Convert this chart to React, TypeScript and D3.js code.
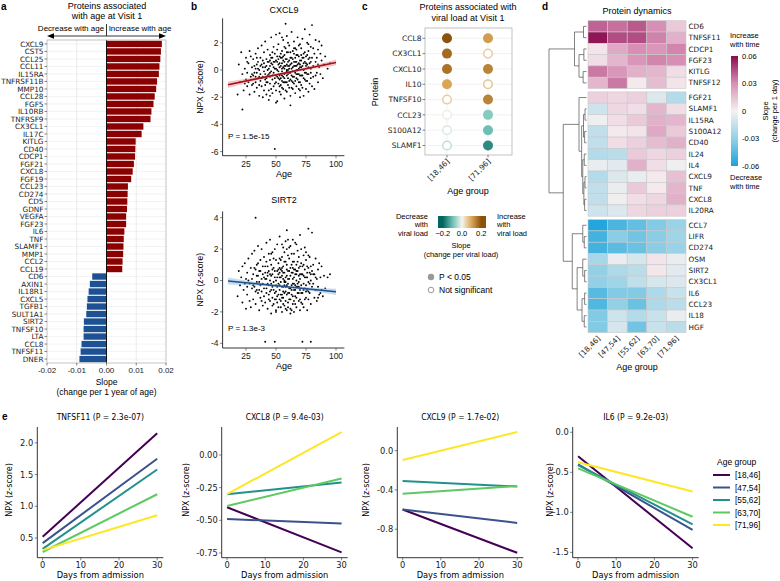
import React from "react";
import * as d3 from "d3";

const FV = "'DejaVu Sans', Verdana, sans-serif";
const FA = "'Liberation Sans', Arial, Helvetica, sans-serif";
const FC = "'DejaVu Sans Condensed', 'Liberation Sans Narrow', 'DejaVu Sans', sans-serif";

// ---------------- Panel a data ----------------
const ageProteins = ["CXCL9","CST5","CCL25","CCL11","IL15RA","TNFRSF11B","MMP10","CCL28","FGF5","IL10RB","TNFRSF9","CX3CL1","IL17C","KITLG","CD40","CDCP1","FGF21","CXCL8","FGF19","CCL23","CD274","CD5","GDNF","VEGFA","FGF23","IL6","TNF","SLAMF1","MMP1","CCL2","CCL19","CD6","AXIN1","IL18R1","CXCL5","TGFB1","SULT1A1","SIRT2","TNFSF10","LTA","CCL8","TNFSF11","DNER"];
const ageSlopes = [0.0186,0.0183,0.0181,0.0178,0.0176,0.0170,0.0167,0.0162,0.0158,0.0151,0.0148,0.0124,0.0118,0.0098,0.0097,0.0096,0.0092,0.0088,0.0083,0.0072,0.0071,0.0070,0.0069,0.0066,0.0066,0.0060,0.0058,0.0057,0.0056,0.0054,0.0053,-0.0048,-0.0056,-0.0060,-0.0064,-0.0066,-0.0068,-0.0076,-0.0077,-0.0077,-0.0084,-0.0087,-0.0091];
const ageTicks = [-0.02,-0.01,0,0.01,0.02];

// ---------------- Panel b data ----------------
const cxcl9Points = [[18,-1.8],[19,0.4],[20,-0.9],[21,1.3],[22,-2.9],[22,-0.3],[23,-1.5],[24,0.1],[25,-0.7],[25,0.9],[26,-1.2],[26,-0.2],[27,0.5],[28,1.4],[28,-1.8],[29,-0.5],[30,0.2],[30,-1.1],[29,1.0],[27,-0.9],
[31,-0.4],[31,0.8],[32,-1.6],[32,0.3],[33,-0.9],[33,1.2],[34,-0.2],[34,-1.3],[35,0.6],[35,-0.6],[35,1.6],[36,-1.9],[36,0.0],[37,-0.8],[37,0.9],[37,-0.3],[38,1.8],[38,-1.2],[38,0.4],[39,-0.5],[39,-2.0],[39,0.7],[40,-0.1],[40,1.3],[40,-1.5],[36,-0.5],[33,0.1],[34,0.9],[31,-1.0],[32,-0.2],
[41,0.2],[41,-1.1],[41,2.1],[42,-0.6],[42,0.8],[42,-1.8],[43,0.0],[43,1.5],[43,-0.9],[44,-0.3],[44,0.6],[44,-2.2],[45,1.1],[45,-0.5],[45,0.3],[46,-1.4],[46,0.9],[46,-0.1],[46,2.4],[47,-0.7],[47,0.4],[47,-1.7],[48,1.7],[48,-0.2],[48,0.6],[49,-5.8],[49,-1.0],[49,0.1],[49,1.2],[50,-0.4],[50,2.6],[50,-1.5],[50,0.7],[43,-0.4],[45,-1.0],[47,1.3],[44,0.1],[42,0.3],[48,-1.2],[41,-0.3],
[51,0.0],[51,-2.3],[51,1.0],[52,-0.6],[52,1.9],[52,0.4],[53,-1.2],[53,0.2],[53,2.7],[54,-0.3],[54,0.9],[54,-1.8],[55,0.5],[55,-0.8],[55,1.4],[55,-0.1],[56,2.2],[56,-0.5],[56,0.7],[56,-1.4],[57,0.1],[57,-2.1],[57,1.1],[57,-0.3],[58,3.4],[58,-0.9],[58,0.3],[58,1.6],[59,-0.4],[59,0.8],[59,-1.6],[59,2.5],[60,0.0],[60,-1.1],[60,1.3],[60,-0.6],[52,-0.1],[53,-0.7],[54,0.3],[55,-1.3],[56,0.2],[57,0.6],[58,-0.2],[59,0.4],[60,0.6],[51,0.6],[53,1.0],[57,-0.9],[54,-0.6],[59,-0.1],
[61,0.3],[61,-0.8],[61,1.8],[62,-0.2],[62,-2.6],[62,0.9],[63,0.5],[63,-1.3],[63,2.8],[64,-0.5],[64,0.2],[64,1.4],[65,-1.0],[65,0.6],[65,2.1],[65,-0.1],[66,0.9],[66,-1.7],[66,0.3],[67,-0.6],[67,1.5],[67,0.0],[67,-1.2],[68,0.4],[68,2.4],[68,-0.3],[69,1.0],[69,-0.9],[69,0.1],[70,-1.5],[70,0.7],[70,1.9],[70,-0.4],[62,0.4],[64,-0.9],[66,-0.2],[68,1.1],[61,-0.2],[63,0.1],[65,1.2],[67,0.6],[69,-0.3],[64,0.8],[66,1.6],[70,0.2],
[71,0.2],[71,-1.1],[71,1.6],[72,-0.4],[72,0.9],[72,2.3],[73,0.0],[73,-1.9],[73,1.2],[74,0.6],[74,-0.7],[74,3.0],[75,-0.2],[75,1.0],[75,-1.4],[76,0.4],[76,2.0],[76,-0.8],[77,0.8],[77,-0.3],[77,1.4],[78,-1.0],[78,0.5],[78,2.6],[79,0.1],[79,-0.6],[80,3.3],[80,0.9],[80,-1.2],[79,1.7],[73,0.5],[75,0.3],[77,-1.6],[71,0.7],[76,1.1],
[81,0.3],[81,-0.5],[82,1.2],[82,-1.4],[83,0.6],[83,2.2],[84,-0.2],[84,0.9],[85,1.5],[85,-0.9],[86,0.2],[86,2.1],[87,-0.3],[88,0.7],[88,1.8],[89,-0.6],[90,0.4],[91,1.0],[93,0.1],[95,0.5],
[42,-0.9],[43,0.6],[44,-1.5],[45,-0.2],[46,0.5],[47,-0.4],[48,0.2],[49,-0.6],[50,0.1],[50,-0.9],[51,-0.5],[51,1.5],[52,-1.0],[52,0.8],[53,-0.4],[53,0.5],[54,-1.1],[54,1.2],[55,0.1],[55,-0.4],[56,-0.9],[56,1.0],[57,-0.6],[57,0.3],[58,-1.5],[58,0.8],[59,0.0],[59,1.3],[60,-0.3],[60,0.3],[61,-1.3],[61,0.7],[62,-0.7],[62,1.3],[63,-0.4],[63,0.9],[64,-0.1],[64,-1.4],[65,0.3],[65,-0.5],[66,0.6],[66,-0.8],[67,0.3],[67,1.1],[68,-0.7],[68,0.0],[69,0.5],[69,-1.4],[70,0.4],[70,-0.9],[71,-0.4],[72,0.3],[72,-1.3],[73,0.9],[74,-0.2],[74,1.3],[75,0.5],[76,-0.3],[77,0.2],[78,0.9],[79,-0.2],[39,0.2],[38,-0.6],[37,0.3],[36,-1.1],[35,0.1],[34,0.4],[33,-0.5],[40,0.5],[41,-0.7],[45,0.7],[47,0.9],[49,0.6],[53,-1.6],[55,0.9],[57,1.7],[59,-0.9],[61,0.1],[63,-0.8],[65,1.6],[67,-0.3],[69,1.8],[71,1.1],[73,-0.6],[75,-0.8],[77,1.9],[79,0.6],[81,1.6],[83,-0.4],[85,0.4],[87,1.2],[60,2.0],[55,2.4],[50,-2.4],[62,-1.9],[45,-1.9],[70,-2.0],[30,-0.3],[26,0.6],[24,-1.0]];

const sirt2Points = [[18,-1.0],[19,0.6],[20,-0.3],[21,0.2],[22,-1.4],[22,0.9],[23,-0.6],[24,1.1],[25,-1.8],[25,0.1],[26,0.5],[26,-0.9],[27,1.4],[28,-0.2],[28,-1.3],[29,0.8],[30,-0.5],[30,1.7],[29,-1.7],[27,0.0],
[31,0.4],[31,-1.2],[32,1.9],[32,-0.4],[33,4.0],[33,0.7],[33,-1.5],[34,-0.1],[34,1.0],[35,-0.8],[35,0.3],[35,2.2],[36,-1.9],[36,0.6],[37,-0.3],[37,1.3],[37,-1.1],[38,0.1],[38,2.0],[38,-0.7],[39,-1.6],[39,0.9],[39,-0.2],[40,1.5],[40,-1.0],[40,0.2],[34,-0.6],[36,-0.1],[32,0.8],[31,-0.3],
[41,-3.9],[41,0.5],[41,-1.4],[42,1.2],[42,-0.5],[42,2.4],[43,-1.8],[43,0.3],[43,-0.2],[44,1.7],[44,-0.9],[44,0.6],[45,-1.3],[45,0.0],[45,2.6],[46,-0.6],[46,1.0],[46,-2.1],[47,0.4],[47,-0.4],[47,1.8],[48,-1.5],[48,0.8],[48,-0.1],[49,-3.9],[49,2.0],[49,-0.8],[49,0.2],[50,-1.2],[50,1.3],[50,-0.3],[50,-1.9],[42,0.1],[44,-0.3],[46,0.3],[48,1.4],[43,0.9],[45,-0.7],[47,-1.1],[41,0.9],
[51,0.6],[51,-1.0],[51,2.3],[52,-0.2],[52,-1.7],[52,1.1],[53,0.2],[53,-0.6],[53,2.8],[54,-1.3],[54,0.7],[54,-0.1],[55,1.5],[55,-0.9],[55,0.3],[55,-2.0],[56,2.1],[56,-0.4],[56,0.9],[56,-1.1],[57,0.0],[57,-1.6],[57,1.8],[57,0.5],[58,-0.7],[58,2.5],[58,-1.3],[58,0.2],[59,3.2],[59,-0.3],[59,1.0],[59,-1.9],[60,0.6],[60,-0.8],[60,1.6],[60,-0.2],[52,0.4],[53,-1.2],[54,1.3],[55,0.8],[56,-0.7],[57,-0.3],[58,1.2],[59,0.3],[60,-1.4],[51,-0.4],[53,0.8],[54,-0.9],[56,0.1],[58,-0.4],
[61,0.1],[61,-1.2],[61,1.4],[62,-0.5],[62,2.2],[62,-1.8],[63,0.5],[63,-0.9],[63,1.7],[64,-0.2],[64,-1.5],[64,0.8],[65,1.2],[65,-0.6],[65,-2.0],[65,0.2],[66,2.4],[66,-1.0],[66,0.4],[67,-0.4],[67,1.0],[67,-1.7],[67,0.0],[68,1.9],[68,-0.8],[68,0.6],[69,-1.3],[69,0.3],[69,1.5],[70,-0.6],[70,-1.9],[70,0.9],[70,2.9],[62,0.3],[64,0.5],[66,-0.3],[68,-0.2],[61,-0.5],[63,-0.3],[65,0.7],[67,0.6],[69,-0.4],[64,1.2],[66,-1.5],[70,0.1],
[71,-0.3],[71,1.1],[71,-1.4],[72,-3.9],[72,0.4],[72,-0.8],[73,1.6],[73,-0.2],[73,-1.7],[74,0.7],[74,-0.5],[74,2.1],[75,-1.1],[75,0.2],[75,1.3],[76,-0.6],[76,-1.9],[76,0.9],[77,3.3],[77,-0.1],[77,-1.2],[78,0.5],[78,1.5],[78,-0.8],[79,-3.9],[79,0.0],[79,-1.5],[80,3.05],[80,0.6],[80,-0.4],[73,0.3],[75,-0.7],[77,0.8],[71,0.4],[76,0.2],
[81,-0.2],[81,1.0],[82,-1.1],[82,0.4],[83,-0.6],[83,1.4],[84,0.1],[84,-1.3],[85,0.7],[85,-0.4],[86,1.1],[86,-0.9],[87,0.2],[88,-0.6],[88,0.9],[89,-1.0],[90,0.3],[91,-0.5],[93,0.2],[95,0.4],
[42,-0.8],[43,0.5],[44,-1.2],[45,0.4],[46,-0.2],[47,0.7],[48,-0.6],[49,0.6],[50,0.0],[50,-0.7],[51,-1.4],[51,0.2],[52,0.7],[52,-0.9],[53,-0.3],[53,1.4],[54,0.2],[54,-1.7],[55,-0.4],[55,0.6],[56,-1.5],[56,0.5],[57,-0.8],[57,1.2],[58,-0.1],[58,-1.8],[59,0.7],[59,-0.9],[60,0.1],[60,-1.7],[61,0.6],[61,-0.8],[62,-1.2],[62,0.8],[63,-0.6],[63,1.0],[64,0.1],[64,-1.0],[65,-0.2],[65,-1.3],[66,0.7],[66,-0.6],[67,-1.1],[67,0.4],[68,-0.4],[68,1.2],[69,-0.8],[69,0.8],[70,-1.2],[70,0.4],[71,-0.8],[72,0.9],[72,-1.5],[73,-0.6],[74,0.2],[74,-1.2],[75,-0.3],[76,0.5],[77,-0.7],[78,-0.2],[79,0.4],[39,0.4],[38,-1.3],[37,0.6],[36,-0.6],[35,1.1],[34,0.3],[33,-0.7],[40,-0.5],[41,0.1],[45,1.3],[47,-1.6],[49,-1.2],[53,0.5],[55,-1.1],[57,-0.1],[59,2.0],[61,2.1],[63,-1.9],[65,1.7],[67,2.3],[69,-0.1],[71,2.0],[73,1.0],[75,1.8],[77,1.6],[79,0.9],[81,0.4],[83,0.2],[85,-1.1],[87,-0.8],[60,2.6],[55,2.3],[50,-2.0],[62,-2.1],[46,1.7],[64,2.6],[30,0.1],[26,-0.4],[24,-0.2]];

const fitAges = [10, 32, 55, 78, 100];
const cxcl9Fit = { intercept: -1.261, slope: 0.01811 };
const cxcl9CiHalf = [0.24, 0.13, 0.08, 0.12, 0.22];
const sirt2Fit = { intercept: 0.0467, slope: -0.00767 };
const sirt2CiHalf = [0.22, 0.12, 0.07, 0.11, 0.2];
const ageAxisTicks = [25, 50, 75, 100];
const cxcl9YTicks = [-6, -4, -2, 0, 2];
const sirt2YTicks = [-4, -2, 0, 2, 4];

// ---------------- Panel c data ----------------
const viralProteins = ["CCL8","CX3CL1","CXCL10","IL10","TNFSF10","CCL23","S100A12","SLAMF1"];
const viralGroups = ["[18,46]","[71,96]"];
const viralSlopeYoung = [0.2, 0.17, 0.16, 0.1, 0.05, 0.01, -0.02, -0.04];
const viralSigYoung = [1, 1, 1, 1, 0, 0, 0, 0];
const viralSlopeOld = [0.11, 0.05, 0.14, 0.06, 0.14, -0.08, -0.1, -0.16];
const viralSigOld = [1, 0, 1, 0, 1, 1, 1, 1];
const viralLegendTicks = [-0.2, 0, 0.2];

// ---------------- Panel d data ----------------
const heatGroups = ["[18,46]","[47,54]","[55,62]","[63,70]","[71,96]"];
const heatProteins = ["CD6","TNFSF11","CDCP1","FGF23","KITLG","TNFSF12","FGF21","SLAMF1","IL15RA","S100A12","CD40","IL24","IL4","CXCL9","TNF","CXCL8","IL20RA","CCL7","LIFR","CD274","OSM","SIRT2","CX3CL1","IL6","CCL23","IL18","HGF"];
const heatCluster = [0,0,0,0,0,0,1,1,1,1,1,1,1,1,1,1,1,2,2,2,2,2,2,2,2,2,2];
const heatValues = [
  [0.040, 0.037, 0.042, 0.030, 0.012],
  [0.058, 0.045, 0.045, 0.033, 0.020],
  [0.004, 0.022, 0.030, 0.028, 0.032],
  [0.006, 0.018, 0.028, 0.032, 0.030],
  [0.035, 0.028, 0.020, 0.018, 0.006],
  [0.018, 0.035, 0.002, 0.016, 0.004],
  [0.010, 0.008, 0.010, -0.008, -0.020],
  [-0.012, 0.008, 0.006, 0.018, 0.006],
  [-0.002, 0.006, 0.012, 0.020, 0.018],
  [-0.016, 0.002, 0.004, 0.022, 0.012],
  [-0.016, 0.006, 0.010, 0.016, 0.020],
  [-0.020, -0.018, 0.012, 0.008, 0.010],
  [-0.004, -0.006, 0.020, 0.006, -0.002],
  [-0.020, -0.008, -0.004, 0.002, 0.015],
  [-0.016, -0.004, 0.012, 0.002, 0.018],
  [-0.016, -0.002, 0.006, 0.008, 0.020],
  [-0.012, -0.008, 0.008, 0.010, 0.010],
  [-0.058, -0.048, -0.042, -0.034, -0.028],
  [-0.050, -0.032, -0.038, -0.032, -0.026],
  [-0.050, -0.044, -0.040, -0.032, -0.028],
  [-0.024, -0.004, -0.010, 0.004, -0.004],
  [-0.030, -0.022, -0.018, 0.003, -0.006],
  [-0.030, -0.026, -0.016, -0.010, -0.008],
  [-0.045, -0.034, -0.034, -0.022, -0.014],
  [-0.047, -0.030, -0.040, -0.022, -0.018],
  [-0.034, -0.012, -0.020, -0.014, -0.004],
  [-0.034, -0.010, -0.038, -0.014, -0.018],
];
const heatLegendTicks = [0.06, 0.03, 0, -0.03, -0.06];
const heatLegendLabels = ["0.06", "0.03", "0", "-0.03", "-0.06"];
type TNode = string | { h: number; c: TNode[] };
const dendro: TNode = { h: 1, c: [
  { h: 0.32, c: [ { h: 0.08, c: ["CD6", "TNFSF11"] }, { h: 0.2, c: [ { h: 0.07, c: ["CDCP1", "FGF23"] }, { h: 0.09, c: ["KITLG", "TNFSF12"] } ] } ] },
  { h: 0.62, c: [
    { h: 0.2, c: ["FGF21", { h: 0.13, c: [ { h: 0.08, c: [ { h: 0.04, c: ["SLAMF1", "IL15RA"] }, { h: 0.05, c: ["S100A12", "CD40"] } ] }, { h: 0.1, c: [ { h: 0.06, c: ["IL24", "IL4"] }, { h: 0.07, c: [ { h: 0.04, c: ["CXCL9", "TNF"] }, { h: 0.05, c: ["CXCL8", "IL20RA"] } ] } ] } ] } ] },
    { h: 0.38, c: [ { h: 0.1, c: ["CCL7", { h: 0.06, c: ["LIFR", "CD274"] }] }, { h: 0.25, c: [ { h: 0.1, c: ["OSM", { h: 0.05, c: ["SIRT2", "CX3CL1"] }] }, { h: 0.12, c: [ { h: 0.05, c: ["IL6", "CCL23"] }, { h: 0.06, c: ["IL18", "HGF"] } ] } ] } ] },
  ] },
] };

// ---------------- Panel e data ----------------
const eGenes = ["TNFSF11", "CXCL8", "CXCL9", "IL6"];
const ePvals = ["2.3e-07", "9.4e-03", "1.7e-02", "9.2e-03"];
const ageGroups = ["[18,46]","[47,54]","[55,62]","[63,70]","[71,96]"];
const eDays = [0, 30];
const eNpxDay0 = [
  [0.52, 0.42, 0.33, 0.28, 0.31],
  [-0.40, -0.49, -0.30, -0.39, -0.30],
  [-0.60, -0.60, -0.31, -0.44, -0.095],
  [-0.30, -0.40, -0.41, -0.45, -0.375],
];
const eNpxDay30 = [
  [2.15, 1.75, 1.58, 1.19, 0.86],
  [-0.745, -0.525, -0.21, -0.18, 0.175],
  [-1.04, -0.736, -0.366, -0.36, 0.19],
  [-1.45, -1.22, -1.15, -1.055, -0.74],
];
const eYTicks = [[0.5, 1.0, 1.5, 2.0], [-0.75, -0.5, -0.25, 0], [-0.8, -0.4, 0], [-1.5, -1.0, -0.5, 0]];
const eYDecimals = [1, 2, 1, 1];
const eYDomain = [[0.19, 2.25], [-0.786, 0.214], [-1.09, 0.24], [-1.567, 0.066]];
const eXTicks = [0, 10, 20, 30];

const viridis5 = ageGroups.map((_, i) => d3.interpolateViridis(i / 4));

const fmtHy = (v: number, d: number) => v.toFixed(d);

// ================= Panel A =================
function PanelA() {
  const x = d3.scaleLinear().domain([-0.02, 0.02]).range([47, 166]);
  const y = d3.scaleBand<string>().domain(ageProteins).range([40, 363]).paddingInner(0.15).paddingOuter(0.1);
  const bw = y.bandwidth();
  return (
    <g>
      <text x={1} y={10} fontSize={10} fontWeight="bold" fontFamily={FA}>a</text>
      <text x={107} y={8.5} textAnchor="middle" fontSize={9} fontFamily={FA}>Proteins associated</text>
      <text x={107} y={19} textAnchor="middle" fontSize={9} fontFamily={FA}>with age at Visit 1</text>
      <text x={71} y={30.5} textAnchor="middle" fontSize={8} fontFamily={FA}>Decrease with age</text>
      <text x={140} y={30.5} textAnchor="middle" fontSize={8} fontFamily={FA}>Increase with age</text>
      <line x1={52} x2={161} y1={36} y2={36} stroke="#000" strokeWidth={0.8} />
      <line x1={x(0)} x2={x(0)} y1={24} y2={36} stroke="#000" strokeWidth={0.8} />
      <path d="M47,36 L54,33.3 L54,38.7 Z" fill="#000" />
      <path d="M166,36 L159,33.3 L159,38.7 Z" fill="#000" />
      <rect x={47} y={40} width={119} height={323} fill="#fff" />
      {ageProteins.map((p) => (
        <line key={"hg" + p} x1={47} x2={166} y1={(y(p) as number) + bw / 2} y2={(y(p) as number) + bw / 2} stroke="#ebebeb" strokeWidth={0.6} />
      ))}
      {[-0.01, 0.01].map((t) => (
        <line key={"vg" + t} x1={x(t)} x2={x(t)} y1={40} y2={363} stroke="#e3e3e3" strokeWidth={0.7} />
      ))}
      {ageProteins.map((p, i) => {
        const v = ageSlopes[i];
        const x0 = Math.min(x(0), x(v));
        return <rect key={"b" + p} x={x0} y={y(p)} width={Math.abs(x(v) - x(0))} height={bw} fill={v > 0 ? "#8b0000" : "#1d5193"} />;
      })}
      <line x1={x(0)} x2={x(0)} y1={40} y2={363} stroke="#000" strokeWidth={0.9} />
      <rect x={47} y={40} width={119} height={323} fill="none" stroke="#b3b3b3" strokeWidth={0.8} />
      {ageProteins.map((p) => (
        <g key={"l" + p}>
          <line x1={44.5} x2={47} y1={(y(p) as number) + bw / 2} y2={(y(p) as number) + bw / 2} stroke="#333" strokeWidth={0.6} />
          <text x={43.5} y={(y(p) as number) + bw / 2 + 2.6} textAnchor="end" fontSize={7.3} fontFamily={FV} fill="#1a1a1a">{p}</text>
        </g>
      ))}
      {ageTicks.map((t) => (
        <g key={"t" + t}>
          <line x1={x(t)} x2={x(t)} y1={363} y2={365.5} stroke="#333" strokeWidth={0.6} />
          <text x={x(t)} y={373} textAnchor="middle" fontSize={8} fontFamily={FA} fill="#1a1a1a">{fmtHy(t, 2)}</text>
        </g>
      ))}
      <text x={106.5} y={385} textAnchor="middle" fontSize={8.5} fontFamily={FA}>Slope</text>
      <text x={106.5} y={395} textAnchor="middle" fontSize={8.5} fontFamily={FA}>(change per 1 year of age)</text>
    </g>
  );
}

// ================= Panel B =================
function Scatter(props: any) {
  const { title, titleY, pts, yDomain, yRange, yTicks, fit, ciHalf, lineColor, bandColor, pLabel, pY } = props;
  const x = d3.scaleLinear().domain([5.5, 107]).range([222.6, 344.4]);
  const y = d3.scaleLinear().domain(yDomain).range(yRange);
  const bottom = yRange[0];
  const top = yRange[1];
  const area = d3.area<number>()
    .x((a) => x(a))
    .y0((a, i) => y(fit.intercept + fit.slope * a - ciHalf[i]))
    .y1((a, i) => y(fit.intercept + fit.slope * a + ciHalf[i]))
    .curve(d3.curveNatural);
  const line = d3.line<number>().x((a) => x(a)).y((a) => y(fit.intercept + fit.slope * a));
  const ends = [fitAges[0], fitAges[fitAges.length - 1]];
  return (
    <g>
      <text x={284} y={titleY} textAnchor="middle" fontSize={9} fontFamily={FA}>{title}</text>
      {pts.map((p: number[], i: number) => (
        <circle key={i} cx={x(p[0])} cy={y(p[1])} r={0.95} fill="#000" />
      ))}
      <path d={area(fitAges) || ""} fill={bandColor} opacity={0.45} />
      <path d={line(ends) || ""} stroke={lineColor} strokeWidth={1.6} fill="none" />
      <line x1={222.6} x2={222.6} y1={top} y2={bottom} stroke="#000" strokeWidth={0.8} />
      <line x1={222.6} x2={344.4} y1={bottom} y2={bottom} stroke="#000" strokeWidth={0.8} />
      {yTicks.map((t: number) => (
        <g key={"y" + t}>
          <line x1={220} x2={222.6} y1={y(t)} y2={y(t)} stroke="#333" strokeWidth={0.6} />
          <text x={218.5} y={y(t) + 3} textAnchor="end" fontSize={8.5} fontFamily={FA} fill="#1a1a1a">{t}</text>
        </g>
      ))}
      {ageAxisTicks.map((t) => (
        <g key={"x" + t}>
          <line x1={x(t)} x2={x(t)} y1={bottom} y2={bottom + 2.6} stroke="#333" strokeWidth={0.6} />
          <text x={x(t)} y={bottom + 11} textAnchor="middle" fontSize={8.5} fontFamily={FA} fill="#1a1a1a">{t}</text>
        </g>
      ))}
      <text x={284} y={bottom + 21} textAnchor="middle" fontSize={9} fontFamily={FA}>Age</text>
      <text transform={`translate(203,${(top + bottom) / 2}) rotate(-90)`} textAnchor="middle" fontSize={8.5} fontFamily={FA}>NPX (z-score)</text>
      <text x={228} y={pY} fontSize={8} fontFamily={FA}>{pLabel}</text>
    </g>
  );
}

function PanelB() {
  return (
    <g>
      <text x={191} y={10} fontSize={10} fontWeight="bold" fontFamily={FA}>b</text>
      <Scatter title="CXCL9" titleY={13} pts={cxcl9Points} yDomain={[-6.3, 3.8]} yRange={[155.7, 18.3]} yTicks={cxcl9YTicks}
        fit={cxcl9Fit} ciHalf={cxcl9CiHalf} lineColor="#a50f15" bandColor="#e8868c" pLabel="P = 1.5e-15" pY={139} />
      <Scatter title="SIRT2" titleY={203} pts={sirt2Points} yDomain={[-4.3, 4.4]} yRange={[348, 211.4]} yTicks={sirt2YTicks}
        fit={sirt2Fit} ciHalf={sirt2CiHalf} lineColor="#1f4e8c" bandColor="#7fb2dc" pLabel="P = 1.3e-3" pY={331} />
    </g>
  );
}

// ================= Panel C =================
const viralColor = d3.scaleLinear<string>().domain([-0.2, -0.1, 0, 0.1, 0.2]).range(["#01665e", "#6cbfb4", "#f5f5f0", "#d8a656", "#8c510a"]).clamp(true);

function PanelC() {
  const y = d3.scalePoint<string>().domain(viralProteins).range([38.3, 145.5]);
  const x = d3.scalePoint<string>().domain(viralGroups).range([447, 488]);
  const cols = [
    { g: viralGroups[0], s: viralSlopeYoung, sig: viralSigYoung },
    { g: viralGroups[1], s: viralSlopeOld, sig: viralSigOld },
  ];
  const lx = d3.scaleLinear().domain([-0.25, 0.25]).range([438, 486]);
  const gradStops = d3.range(0, 11).map((i) => -0.25 + i * 0.05);
  return (
    <g>
      <defs>
        <linearGradient id="gradC" x1="0" x2="1" y1="0" y2="0">
          {gradStops.map((v, i) => (
            <stop key={i} offset={`${(i / 10) * 100}%`} stopColor={viralColor(v)} />
          ))}
        </linearGradient>
      </defs>
      <text x={362} y={10} fontSize={10} fontWeight="bold" fontFamily={FA}>c</text>
      <text x={468} y={10} textAnchor="middle" fontSize={9} fontFamily={FA}>Proteins associated with</text>
      <text x={468} y={21} textAnchor="middle" fontSize={9} fontFamily={FA}>viral load at Visit 1</text>
      <rect x={425} y={28} width={87} height={127} fill="#fff" />
      {viralProteins.map((p) => (
        <line key={"h" + p} x1={425} x2={512} y1={y(p)} y2={y(p)} stroke="#ededed" strokeWidth={0.7} />
      ))}
      {viralGroups.map((g) => (
        <line key={"v" + g} x1={x(g)} x2={x(g)} y1={28} y2={155} stroke="#ededed" strokeWidth={0.7} />
      ))}
      {cols.map((c) =>
        viralProteins.map((p, i) => {
          const col = viralColor(c.s[i]);
          return c.sig[i] ? (
            <circle key={c.g + p} cx={x(c.g)} cy={y(p)} r={5} fill={col} />
          ) : (
            <circle key={c.g + p} cx={x(c.g)} cy={y(p)} r={4.3} fill="#fff" stroke={col} strokeWidth={1.5} />
          );
        })
      )}
      <rect x={425} y={28} width={87} height={127} fill="none" stroke="#b3b3b3" strokeWidth={0.8} />
      {viralProteins.map((p) => (
        <g key={"l" + p}>
          <line x1={422.5} x2={425} y1={y(p)} y2={y(p)} stroke="#333" strokeWidth={0.6} />
          <text x={421.5} y={(y(p) as number) + 2.7} textAnchor="end" fontSize={7.5} fontFamily={FV} fill="#1a1a1a">{p}</text>
        </g>
      ))}
      {viralGroups.map((g) => (
        <g key={"xl" + g}>
          <line x1={x(g)} x2={x(g)} y1={155} y2={157.5} stroke="#333" strokeWidth={0.6} />
          <text transform={`translate(${(x(g) as number) + 3},${162}) rotate(-45)`} textAnchor="end" fontSize={7.5} fontFamily={FV} fill="#1a1a1a">{g}</text>
        </g>
      ))}
      <text transform="translate(378,92) rotate(-90)" textAnchor="middle" fontSize={9} fontFamily={FA}>Protein</text>
      <text x={468} y={194} textAnchor="middle" fontSize={9} fontFamily={FA}>Age group</text>
      {/* colour legend */}
      <text x={428} y={219} textAnchor="end" fontSize={7.5} fontFamily={FA}>Decrease</text>
      <text x={428} y={227} textAnchor="end" fontSize={7.5} fontFamily={FA}>with</text>
      <text x={428} y={236} textAnchor="end" fontSize={7.5} fontFamily={FA}>viral load</text>
      <rect x={438} y={216} width={48} height={12} fill="url(#gradC)" />
      {viralLegendTicks.map((t) => (
        <text key={"lt" + t} x={lx(t)} y={236} textAnchor="middle" fontSize={7.5} fontFamily={FA}>{t === 0 ? "0.0" : (t < 0 ? "\u22120.2" : "0.2")}</text>
      ))}
      <text x={497} y={219} fontSize={7.5} fontFamily={FA}>Increase</text>
      <text x={497} y={227} fontSize={7.5} fontFamily={FA}>with</text>
      <text x={497} y={236} fontSize={7.5} fontFamily={FA}>viral load</text>
      <text x={461} y={248} textAnchor="middle" fontSize={7.5} fontFamily={FA}>Slope</text>
      <text x={461} y={256.5} textAnchor="middle" fontSize={7.5} fontFamily={FA}>(change per viral load)</text>
      <circle cx={431} cy={277} r={3.2} fill="#999" />
      <text x={439} y={280} fontSize={8.5} fontFamily={FA}>P &lt; 0.05</text>
      <circle cx={431} cy={290} r={2.8} fill="#fff" stroke="#999" strokeWidth={1} />
      <text x={439} y={293} fontSize={8.5} fontFamily={FA}>Not significant</text>
    </g>
  );
}

// ================= Panel D =================
const heatColor = d3.scaleLinear<string>().domain([-0.06, -0.03, 0, 0.03, 0.06]).range(["#1ba3db", "#93d0e6", "#f6f1f1", "#d78fb5", "#8b0b4f"]).clamp(true);

function PanelD() {
  const x = d3.scaleBand<string>().domain(heatGroups).range([588, 686]);
  const rowH = 11.3;
  const gap = 3.4;
  const rowTop = (i: number) => 20.7 + i * rowH + heatCluster[i] * gap;
  const leafY = (name: string) => rowTop(heatProteins.indexOf(name)) + rowH / 2;
  const hx = d3.scaleLinear().domain([0, 1]).range([586.5, 549]);
  const segs: number[][] = [];
  const layout = (n: TNode): { x: number; y: number } => {
    if (typeof n === "string") return { x: hx(0), y: leafY(n) };
    const kids = n.c.map(layout);
    const nx = hx(n.h);
    segs.push([nx, kids[0].y, nx, kids[kids.length - 1].y]);
    kids.forEach((k) => segs.push([nx, k.y, k.x, k.y]));
    return { x: nx, y: (kids[0].y + kids[kids.length - 1].y) / 2 };
  };
  layout(dendro);
  const ly = d3.scaleLinear().domain([0.06, -0.06]).range([56, 166]);
  const stops = d3.range(0, 13).map((i) => 0.06 - i * 0.01);
  return (
    <g>
      <defs>
        <linearGradient id="gradD" x1="0" x2="0" y1="0" y2="1">
          {stops.map((v, i) => (
            <stop key={i} offset={`${(i / 12) * 100}%`} stopColor={heatColor(v)} />
          ))}
        </linearGradient>
      </defs>
      <text x={542} y={10} fontSize={10} fontWeight="bold" fontFamily={FA}>d</text>
      <text x={637} y={14} textAnchor="middle" fontSize={9} fontFamily={FA}>Protein dynamics</text>
      {heatProteins.map((p, i) =>
        heatGroups.map((g, j) => (
          <rect key={p + g} x={x(g)} y={rowTop(i)} width={x.bandwidth()} height={rowH} fill={heatColor(heatValues[i][j])} stroke="#c9c9c9" strokeWidth={0.6} />
        ))
      )}
      {segs.map((s, i) => (
        <line key={"s" + i} x1={s[0]} y1={s[1]} x2={s[2]} y2={s[3]} stroke="#4d4d4d" strokeWidth={0.7} />
      ))}
      {heatProteins.map((p, i) => (
        <text key={"r" + p} x={688.5} y={rowTop(i) + rowH / 2 + 2.6} fontSize={7.3} fontFamily={FV} fill="#1a1a1a">{p}</text>
      ))}
      {heatGroups.map((g) => (
        <text key={"c" + g} transform={`translate(${(x(g) as number) + x.bandwidth() / 2 + 3},${339}) rotate(-45)`} textAnchor="end" fontSize={7.3} fontFamily={FV} fill="#1a1a1a">{g}</text>
      ))}
      <text x={637} y={370} textAnchor="middle" fontSize={9} fontFamily={FA}>Age group</text>
      {/* legend */}
      <text x={730} y={38} fontSize={7.5} fontFamily={FA}>Increase</text>
      <text x={730} y={47} fontSize={7.5} fontFamily={FA}>with time</text>
      <rect x={731} y={56} width={7} height={110} fill="url(#gradD)" />
      {heatLegendTicks.map((t, i) => (
        <text key={"ht" + i} x={742} y={ly(t) + 2.7} fontSize={7.5} fontFamily={FA}>{heatLegendLabels[i]}</text>
      ))}
      <text x={730} y={180} fontSize={7.5} fontFamily={FA}>Decrease</text>
      <text x={730} y={189} fontSize={7.5} fontFamily={FA}>with time</text>
      <text transform="translate(768,111) rotate(-90)" textAnchor="middle" fontSize={7.5} fontFamily={FA}>Slope</text>
      <text transform="translate(777,111) rotate(-90)" textAnchor="middle" fontSize={7.5} fontFamily={FA}>(change per 1 day)</text>
    </g>
  );
}

// ================= Panel E =================
function PanelE() {
  const axisLeft = [37.3, 221.7, 397.3, 572.7];
  const yLabX = [12, 189, 369, 553];
  const top = 427;
  const bottom = 557.7;
  return (
    <g>
      <text x={2} y={420} fontSize={10} fontWeight="bold" fontFamily={FA}>e</text>
      {eGenes.map((gene, k) => {
        const x = d3.scaleLinear().domain([-1.4, 31.6]).range([axisLeft[k], axisLeft[k] + 126]);
        const y = d3.scaleLinear().domain(eYDomain[k]).range([bottom, top]);
        return (
          <g key={gene}>
            <text x={axisLeft[k] + 63} y={420} textAnchor="middle" fontSize={8.5} fontFamily={FC}>{`${gene} (P = ${ePvals[k]})`}</text>
            {ageGroups.map((g, i) => {
              const vals = [eNpxDay0[k][i], eNpxDay30[k][i]];
              const l = d3.line<number>().x((d, j) => x(eDays[j])).y((d) => y(d));
              return <path key={g} d={l(vals) || ""} stroke={viridis5[i]} strokeWidth={2} fill="none" />;
            })}
            <line x1={axisLeft[k]} x2={axisLeft[k]} y1={top} y2={bottom} stroke="#000" strokeWidth={0.8} />
            <line x1={axisLeft[k]} x2={axisLeft[k] + 126} y1={bottom} y2={bottom} stroke="#000" strokeWidth={0.8} />
            {eYTicks[k].map((t) => (
              <g key={"y" + t}>
                <line x1={axisLeft[k] - 2.6} x2={axisLeft[k]} y1={y(t)} y2={y(t)} stroke="#333" strokeWidth={0.6} />
                <text x={axisLeft[k] - 4} y={y(t) + 3} textAnchor="end" fontSize={8.3} fontFamily={FV} fill="#1a1a1a">{fmtHy(t, eYDecimals[k])}</text>
              </g>
            ))}
            {eXTicks.map((t) => (
              <g key={"x" + t}>
                <line x1={x(t)} x2={x(t)} y1={bottom} y2={bottom + 2.6} stroke="#333" strokeWidth={0.6} />
                <text x={x(t)} y={bottom + 10.5} textAnchor="middle" fontSize={8.3} fontFamily={FV} fill="#1a1a1a">{t}</text>
              </g>
            ))}
            <text x={axisLeft[k] + 63} y={578} textAnchor="middle" fontSize={8.3} fontFamily={FV}>Days from admission</text>
            <text transform={`translate(${yLabX[k]},${490}) rotate(-90)`} textAnchor="middle" fontSize={8} fontFamily={FV}>NPX (z-score)</text>
          </g>
        );
      })}
      <text x={717} y={465} fontSize={8.5} fontFamily={FA}>Age group</text>
      {ageGroups.map((g, i) => (
        <g key={"lg" + g}>
          <line x1={713} x2={730} y1={475 + i * 12.5} y2={475 + i * 12.5} stroke={viridis5[i]} strokeWidth={2} />
          <text x={735} y={478 + i * 12.5} fontSize={8.3} fontFamily={FA}>{g}</text>
        </g>
      ))}
    </g>
  );
}

export default function App() {
  return (
    <svg width={780} height={581} viewBox="0 0 780 581" style={{ position: "absolute", left: 0, top: 0, display: "block" }} fontFamily={FA}>
      <rect x={0} y={0} width={780} height={581} fill="#fff" />
      <PanelA />
      <PanelB />
      <PanelC />
      <PanelD />
      <PanelE />
    </svg>
  );
}
